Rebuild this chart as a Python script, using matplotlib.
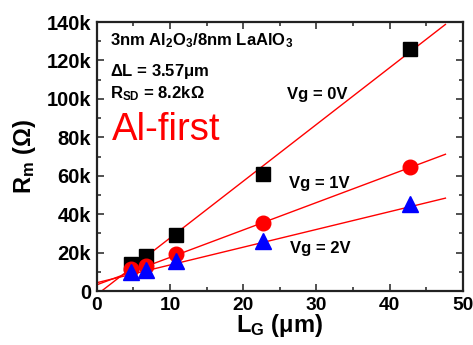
import numpy as np
import matplotlib
matplotlib.use("Agg")
import matplotlib.pyplot as plt
from matplotlib.ticker import MultipleLocator

plt.rcParams['font.family'] = ['Liberation Sans', 'DejaVu Sans']
plt.rcParams['mathtext.default'] = 'regular'

# Gate length (um) and measured resistance (Ohm) for each gate voltage
lg = [4.7, 6.7, 10.8, 22.7, 42.8]
r_0v = [13900, 18200, 29200, 60900, 126200]
r_1v = [11300, 13000, 19400, 35200, 64700]
r_2v = [10100, 10900, 15800, 26200, 45200]

# Linear fits: (slope Ohm/um, intercept Ohm)
fit_0v = (2957, -2000)
fit_1v = (1428, 3200)
fit_2v = (925, 4300)
fit_x = [0, 47.6]

yticks = [0, 20000, 40000, 60000, 80000, 100000, 120000, 140000]
ytick_labels = ['0', '20k', '40k', '60k', '80k', '100k', '120k', '140k']
xticks = [0, 10, 20, 30, 40, 50]

fig = plt.figure(figsize=(4.73, 3.45), dpi=100)
ax = fig.add_axes([0.2044, 0.1565, 0.7745, 0.7797])

xs = np.array(fit_x)
for slope, icpt in (fit_0v, fit_1v, fit_2v):
    ax.plot(xs, slope * xs + icpt, color='red', lw=1.0, zorder=2)

ax.plot(lg, r_0v, 's', color='black', ms=9.6, zorder=3)
ax.plot(lg, r_1v, 'o', color='red', ms=10.5, zorder=3)
ax.plot(lg, r_2v, '^', color='blue', ms=12, zorder=3)

ax.set_xlim(0, 50)
ax.set_ylim(0, 140000)
ax.set_xticks(xticks)
ax.set_xticklabels([str(v) for v in xticks])
ax.set_yticks(yticks)
ax.set_yticklabels(ytick_labels)
ax.xaxis.set_minor_locator(MultipleLocator(5))
ax.yaxis.set_minor_locator(MultipleLocator(10000))
ax.tick_params(which='both', direction='in', top=True, right=True,
               width=1.2, colors='#333333', labelcolor='black')
ax.tick_params(which='major', length=5, pad=4)
ax.tick_params(axis='y', which='major', labelsize=14.5)
ax.tick_params(axis='x', which='major', labelsize=13.8)
ax.tick_params(which='minor', length=3)
for lab in ax.get_xticklabels() + ax.get_yticklabels():
    lab.set_fontweight('bold')
for sp in ax.spines.values():
    sp.set_linewidth(1.6)
    sp.set_color('#222222')

ax.set_xlabel(r'L$_G$ ($\mu$m)', fontsize=17, fontweight='bold', labelpad=-1)
ax.set_ylabel(r'R$_m$ ($\Omega$)', fontsize=17, fontweight='bold', labelpad=6)

txt = dict(fontsize=12, fontweight='bold', color='black')
ax.text(1.8, 128000, r'3nm Al$_2$O$_3$/8nm LaAlO$_3$', **txt)
ax.text(1.8, 112000, r'$\Delta$L = 3.57$\mu$m', **txt)
ax.text(1.8, 100200, r'R$_{SD}$ = 8.2k$\Omega$', **txt)
ax.text(2.1, 78600, 'Al-first', fontsize=27.5, color='red')
ax.text(26.0, 99800, 'Vg = 0V', **txt)
ax.text(26.3, 53500, 'Vg = 1V', **txt)
ax.text(26.4, 19600, 'Vg = 2V', **txt)

fig.savefig('out.png', dpi=100)
